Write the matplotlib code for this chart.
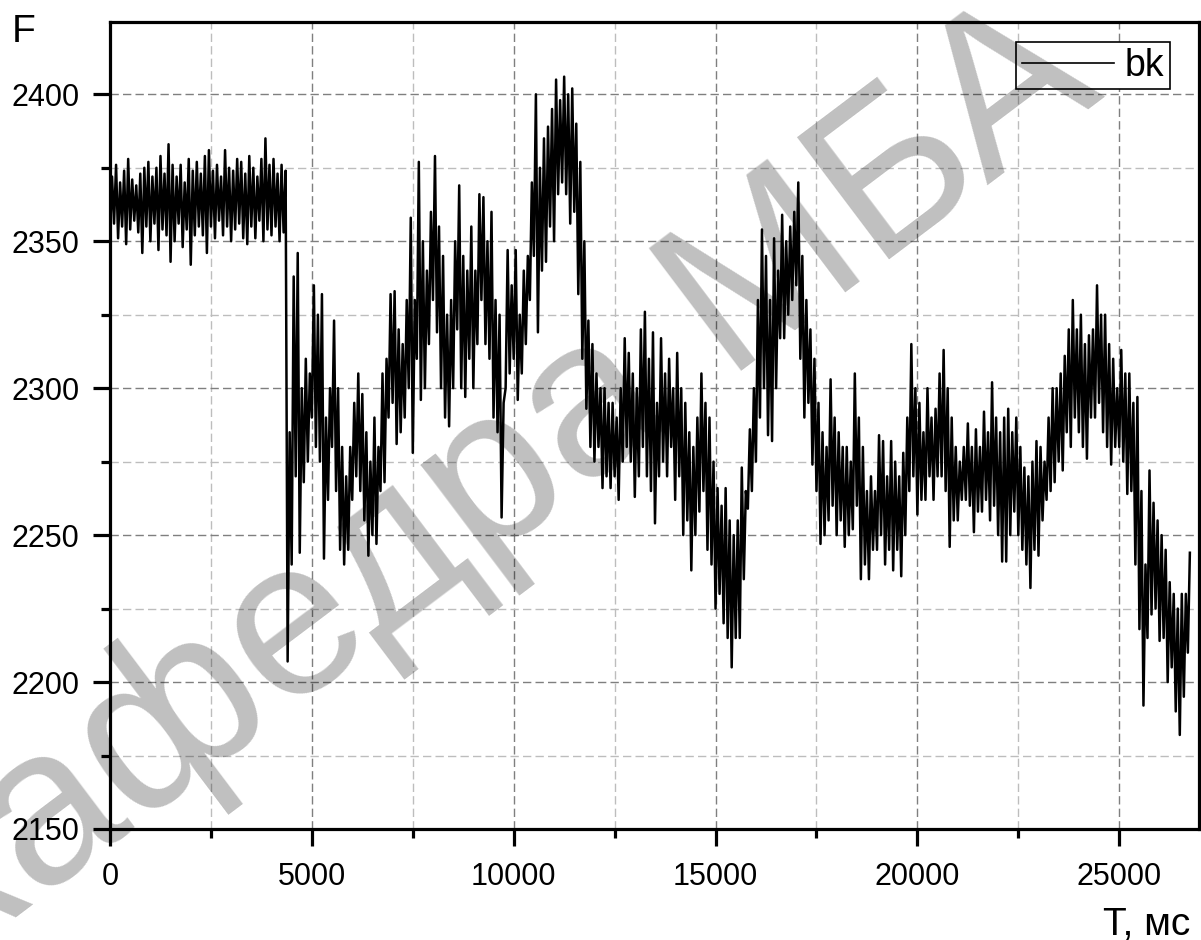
import numpy as np
import matplotlib
matplotlib.use('Agg')
import matplotlib.pyplot as plt
from matplotlib.ticker import MultipleLocator

plt.rcParams['font.family'] = ['Liberation Sans', 'DejaVu Sans']

# signal envelope per 100 ms window: lowest and highest reading in each window
t_ms = np.arange(0, 26800, 100)

f_low = [
    # 0 .. 4300 ms, resting level
    2352, 2356, 2351, 2355, 2349, 2354, 2357, 2353, 2346, 2355,
    2350, 2356, 2347, 2354, 2352, 2343, 2350, 2356, 2348, 2354,
    2342, 2352, 2355, 2352, 2346, 2355, 2351, 2357, 2352, 2355,
    2350, 2354, 2356, 2351, 2349, 2355, 2351, 2357, 2350, 2354,
    2352, 2355, 2350, 2353,
    # 4400 ..
    2207, 2240, 2270, 2244, 2268, 2275, 2290, 2280, 2275, 2242,
    2262, 2280, 2265, 2245, 2240, 2245, 2262, 2270, 2265, 2255,
    2243, 2250, 2247, 2265, 2268, 2290, 2295, 2281, 2285, 2290,
    2300, 2278, 2310, 2296, 2300, 2315, 2330, 2319, 2300, 2290,
    2287, 2300, 2320, 2300, 2297, 2310, 2300, 2315, 2330, 2315,
    2310, 2290, 2285, 2256, 2300, 2305, 2310, 2296, 2305, 2315,
    2330, 2345, 2319, 2340, 2343, 2355, 2350, 2366, 2370, 2366,
    2356, 2360, 2332, 2310, 2293, 2280, 2275, 2280, 2266, 2270,
    2266, 2270, 2262, 2275, 2280, 2275, 2263, 2270, 2280, 2270,
    2265, 2254, 2270, 2275, 2270, 2280, 2262, 2270, 2250, 2255,
    2238, 2250, 2258, 2265, 2245, 2240, 2225, 2230, 2220, 2215,
    2205, 2215, 2215, 2235, 2259, 2265, 2275, 2290, 2300, 2284,
    2282, 2300, 2317, 2317, 2325, 2330, 2335, 2310, 2290, 2295,
    2274, 2265, 2247, 2250, 2255, 2260, 2250, 2255, 2246, 2250,
    2252, 2260, 2235, 2240, 2235, 2245, 2245, 2250, 2240, 2245,
    2238, 2245, 2236, 2250, 2265, 2270, 2257, 2262, 2262, 2270,
    2262, 2270, 2270, 2265, 2246, 2255, 2255, 2262, 2262, 2260,
    2251, 2258, 2258, 2262, 2255, 2260, 2250, 2241, 2241, 2250,
    2258, 2250, 2245, 2240, 2232, 2245, 2243, 2255, 2262, 2265,
    2268, 2275, 2272, 2285, 2280, 2290, 2285, 2280, 2276, 2290,
    2290, 2295, 2285, 2280, 2274, 2280, 2280, 2275, 2264, 2265,
    2240, 2218, 2192, 2215, 2223, 2225, 2214, 2215, 2200, 2205,
    2190, 2182, 2195, 2210,
]
f_high = [
    # 0 .. 4300 ms, resting level
    2372, 2376, 2370, 2374, 2378, 2371, 2369, 2373, 2375, 2377,
    2372, 2375, 2379, 2373, 2383, 2376, 2372, 2376, 2370, 2378,
    2374, 2377, 2373, 2379, 2381, 2374, 2376, 2372, 2381, 2375,
    2374, 2378, 2377, 2373, 2379, 2375, 2372, 2378, 2385, 2376,
    2378, 2373, 2376, 2374,
    # 4400 ..
    2285, 2338, 2346, 2300, 2310, 2305, 2335, 2325, 2332, 2290,
    2300, 2323, 2300, 2280, 2270, 2280, 2295, 2305, 2298, 2285,
    2275, 2290, 2280, 2305, 2310, 2332, 2333, 2320, 2315, 2330,
    2358, 2330, 2377, 2350, 2340, 2360, 2379, 2355, 2345, 2325,
    2330, 2350, 2369, 2345, 2340, 2355, 2340, 2366, 2365, 2350,
    2360, 2330, 2325, 2295, 2347, 2335, 2347, 2325, 2340, 2345,
    2370, 2400, 2375, 2385, 2389, 2395, 2405, 2398, 2406, 2400,
    2402, 2390, 2377, 2350, 2323, 2315, 2305, 2300, 2300, 2295,
    2295, 2290, 2300, 2317, 2312, 2305, 2300, 2320, 2326, 2310,
    2319, 2295, 2317, 2305, 2310, 2300, 2312, 2300, 2295, 2285,
    2280, 2290, 2305, 2295, 2290, 2275, 2266, 2260, 2266, 2255,
    2250, 2255, 2273, 2265, 2286, 2300, 2330, 2354, 2345, 2330,
    2351, 2340, 2359, 2350, 2355, 2360, 2370, 2345, 2330, 2320,
    2310, 2295, 2285, 2280, 2303, 2290, 2285, 2280, 2280, 2275,
    2305, 2290, 2280, 2265, 2270, 2265, 2284, 2282, 2270, 2282,
    2275, 2270, 2278, 2290, 2315, 2300, 2295, 2285, 2300, 2290,
    2293, 2305, 2313, 2300, 2290, 2280, 2275, 2280, 2288, 2280,
    2286, 2280, 2292, 2285, 2302, 2290, 2285, 2290, 2293, 2285,
    2290, 2280, 2273, 2270, 2275, 2282, 2280, 2275, 2290, 2300,
    2300, 2305, 2311, 2320, 2330, 2320, 2325, 2315, 2318, 2320,
    2335, 2325, 2325, 2315, 2310, 2300, 2313, 2305, 2305, 2295,
    2297, 2265, 2240, 2272, 2261, 2255, 2250, 2245, 2234, 2230,
    2225, 2230, 2230, 2244,
]

# low at window start, high at window middle -> dense noisy trace
t_line = np.column_stack([t_ms, t_ms + 50]).ravel()
f_line = np.column_stack([f_low, f_high]).ravel()

fig = plt.figure(figsize=(12.01, 9.40), dpi=100)
ax = fig.add_axes([0.0916, 0.1181, 0.9067, 0.8585])

ax.plot(t_line, f_line, color='black', lw=1.8, label='bk', zorder=3)

ax.set_xlim(0, 26975)
ax.set_ylim(2150, 2424.6)
ax.xaxis.set_major_locator(MultipleLocator(5000))
ax.xaxis.set_minor_locator(MultipleLocator(2500))
ax.yaxis.set_major_locator(MultipleLocator(50))
ax.yaxis.set_minor_locator(MultipleLocator(25))

ax.grid(which='major', color='#7f7f7f', lw=1.0, linestyle=(0, (6, 3)), zorder=1)
ax.grid(which='minor', color='#bdbdbd', lw=1.0, linestyle=(0, (6, 3)), zorder=1)

for s in ax.spines.values():
    s.set_linewidth(2.3)
ax.tick_params(which='major', direction='out', length=12, width=2.3,
               labelsize=22, pad=10)
ax.tick_params(which='minor', direction='out', length=6.5, width=2.3)
ax.tick_params(axis='x', pad=12)

leg = ax.legend(loc='upper right', bbox_to_anchor=(0.9734, 0.9752), fontsize=27,
                frameon=True, fancybox=False, framealpha=1, edgecolor='black',
                handlelength=2.45, handletextpad=0.3, borderpad=0.15,
                borderaxespad=0.0)
leg.get_frame().set_linewidth(1.2)
for h in leg.get_lines():
    h.set_linewidth(1.2)

fig.text(0.010, 0.9553, 'F', fontsize=28, ha='left', va='baseline')
fig.text(0.9908, 0.0053, 'T, мс', fontsize=28, ha='right', va='baseline')

# department watermark
fig.text(0.413, 0.486, 'кафедра МБА', fontsize=160, rotation=37,
         ha='center', va='center', color='black', alpha=0.25, zorder=10,
         rotation_mode='anchor')

fig.savefig('out.png', dpi=100)
